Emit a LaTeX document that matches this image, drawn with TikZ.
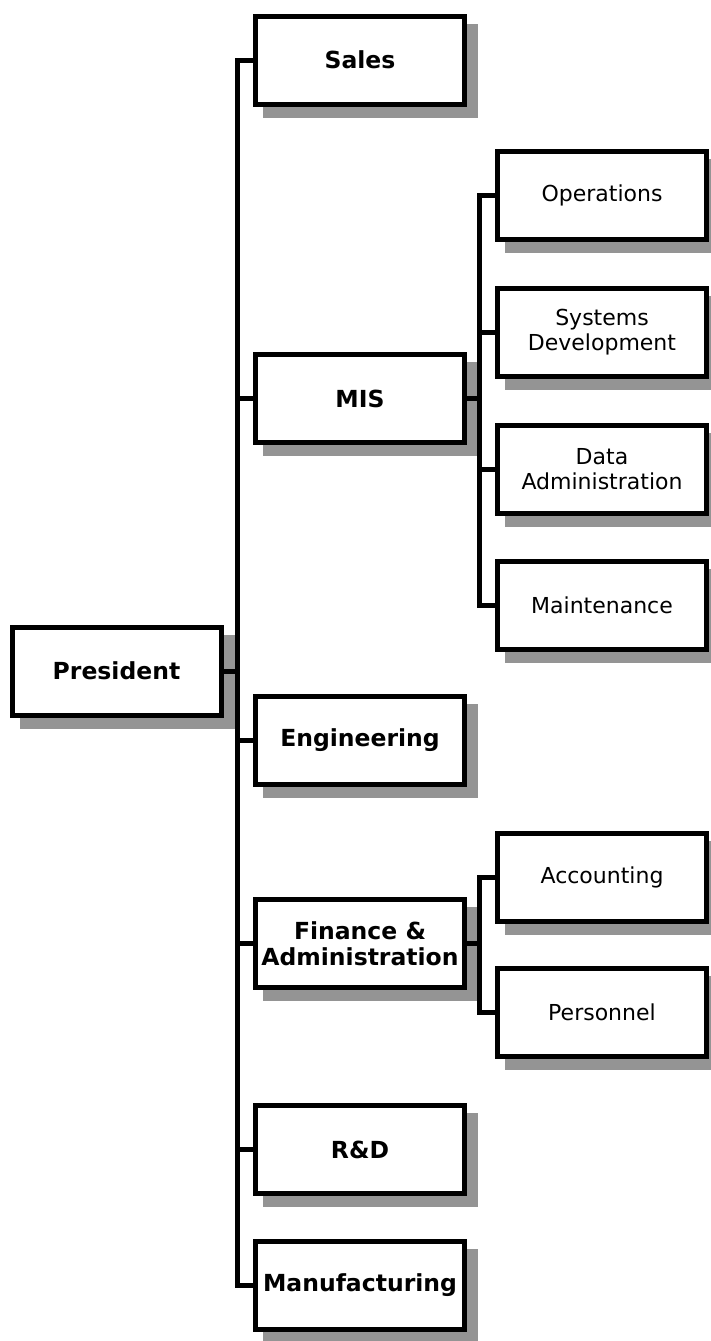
\documentclass[tikz,border=0pt]{standalone}
\usepackage{fontspec}
\setmainfont{DejaVu Sans}
\usetikzlibrary{calc}
\pgfdeclarelayer{bg}
\pgfsetlayers{bg,main}
\tikzset{
  box/.style={draw, line width=5pt, fill=white, minimum width=209pt,
    minimum height=88pt, inner sep=0pt, align=center},
  unit/.style={box, font=\fontsize{23.5}{26}\selectfont\bfseries},
  subunit/.style={box, font=\fontsize{22}{25}\selectfont},
  link/.style={line width=5pt, line join=miter},
  shade/.style={fill=black!42},
}
% dithered drop shadow to the lower right of a box
\newcommand\dropshade[1]{%
  \fill[shade] ($(#1.north west)+(10,10)$) rectangle ($(#1.south east)+(11,11)$);}
\begin{document}
\begin{tikzpicture}[x=1pt, y=-1pt]
\useasboundingbox (0,0) rectangle (711,1341);

% top level
\node[unit] (pres) at (116.5,671) {President};

% departments
\node[unit] (sales) at (360,60)     {Sales};
\node[unit] (mis)   at (360,398.5)  {MIS};
\node[unit] (eng)   at (360,740.5)  {Engineering};
\node[unit] (fin)   at (360,943.5)  {Finance \&\\Administration};
\node[unit] (rnd)   at (360,1149.5) {R\&D};
\node[unit] (manu)  at (360,1285.5) {Manufacturing};

% MIS groups
\node[subunit] (ops)   at (602,195.5) {Operations};
\node[subunit] (sysd)  at (602,332)   {Systems\\Development};
\node[subunit] (dadm)  at (602,469)   {Data\\Administration};
\node[subunit] (maint) at (602,605)   {Maintenance};

% Finance groups
\node[subunit] (acct)  at (602,877)    {Accounting};
\node[subunit] (pers)  at (602,1012.5) {Personnel};

\begin{pgfonlayer}{bg}
  \foreach \n in {pres,sales,mis,eng,fin,rnd,manu,ops,sysd,dadm,maint,acct,pers}
    {\dropshade{\n}}

  % president trunk
  \draw[link] (sales.west) -- ++(-15.5,0) coordinate (trunk) |- (manu.west);
  \foreach \n in {mis,eng,fin,rnd}
    {\draw[link] (\n.west) -- (\n.west -| trunk);}
  \draw[link] (pres.east) -- (pres.east -| trunk);

  % MIS branch
  \draw[link] (ops.west) -- ++(-15.5,0) coordinate (mtrunk) |- (maint.west);
  \foreach \n in {sysd,dadm}
    {\draw[link] (\n.west) -- (\n.west -| mtrunk);}
  \draw[link] (mis.east) -- (mis.east -| mtrunk);

  % Finance branch
  \draw[link] (acct.west) -- ++(-15.5,0) coordinate (ftrunk) |- (pers.west);
  \draw[link] (fin.east) -- (fin.east -| ftrunk);
\end{pgfonlayer}
\end{tikzpicture}
\end{document}
